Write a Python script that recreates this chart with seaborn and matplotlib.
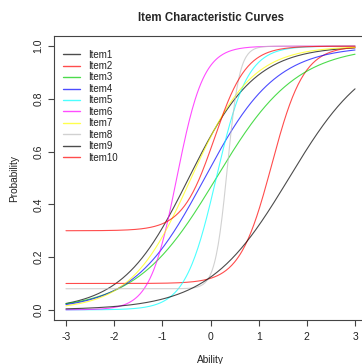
import numpy as np
import pandas as pd
import matplotlib
matplotlib.use("Agg")
import matplotlib.pyplot as plt
import seaborn as sns

# 3PL item parameters: discrimination, difficulty, guessing
items = ["Item1", "Item2", "Item3", "Item4", "Item5",
         "Item6", "Item7", "Item8", "Item9", "Item10"]
discrimination = [1.45, 3.0, 1.2, 1.35, 3.1, 3.6, 1.6, 7.9, 1.2, 3.0]
difficulty = [-0.45, 1.27, 0.12, -0.12, 0.12, -0.7, -0.4, 0.35, 1.63, 0.08]
guessing = [0.0, 0.1, 0.0, 0.0, 0.0, 0.0, 0.0, 0.08, 0.0, 0.3]
# R default palette, recycled
colors = ["black", "red", "#00CD00", "blue", "cyan",
          "magenta", "yellow", "#BEBEBE", "black", "red"]

x_ticks = [-3, -2, -1, 0, 1, 2, 3]
y_ticks = [0.0, 0.2, 0.4, 0.6, 0.8, 1.0]

theta = np.linspace(-3, 3, 301)
frames = []
for name, a, b, c in zip(items, discrimination, difficulty, guessing):
    p = c + (1 - c) / (1 + np.exp(-a * (theta - b)))
    frames.append(pd.DataFrame({"Ability": theta, "Probability": p, "item": name}))
df = pd.concat(frames, ignore_index=True)

sns.set_style("white")
plt.rcParams["font.family"] = ["Liberation Sans", "DejaVu Sans"]

fig = plt.figure(figsize=(3.62, 3.64), dpi=100)
ax = fig.add_axes([54.4 / 362, 43.6 / 364, 312.2 / 362, 284.8 / 364])

sns.lineplot(data=df, x="Ability", y="Probability", hue="item",
             hue_order=items, palette=colors, linewidth=0.8, alpha=0.7,
             ax=ax, legend=True)

ax.set_xlim(-3.24, 3.24)
ax.set_ylim(-0.04, 1.04)
ax.set_xticks(x_ticks)
ax.set_xticklabels([str(t) for t in x_ticks])
ax.set_yticks(y_ticks)
ax.set_yticklabels([f"{t:.1f}" for t in y_ticks], rotation=90, va="center")
ax.tick_params(axis="both", direction="out", length=4, width=0.8,
               color="#444444", labelsize=7.5, labelcolor="#222222",
               pad=4, bottom=True, left=True)
for s in ax.spines.values():
    s.set_color("#444444")
    s.set_linewidth(0.8)

ax.set_xlabel("Ability", fontsize=7.3, color="#222222")
ax.set_ylabel("Probability", fontsize=7.3, color="#222222")
ax.xaxis.set_label_coords(0.5, -0.139)
ax.yaxis.set_label_coords(-0.129, 0.5)
ax.xaxis.label.set_va("center")
ax.yaxis.label.set_va("center")

leg = ax.legend(loc="upper left", bbox_to_anchor=(0.0275, 0.951),
                frameon=False, fontsize=7, handlelength=1.75,
                handletextpad=0.82, labelspacing=0.15, borderpad=0,
                borderaxespad=0)
for line in leg.get_lines():
    line.set_linewidth(1.0)
    line.set_alpha(0.7)
for t in leg.get_texts():
    t.set_color("#222222")

fig.text(210.5 / 362, 346 / 364, "Item Characteristic Curves",
         ha="center", va="center", fontsize=8.3, fontweight="bold")

fig.savefig("out.png", dpi=100)
